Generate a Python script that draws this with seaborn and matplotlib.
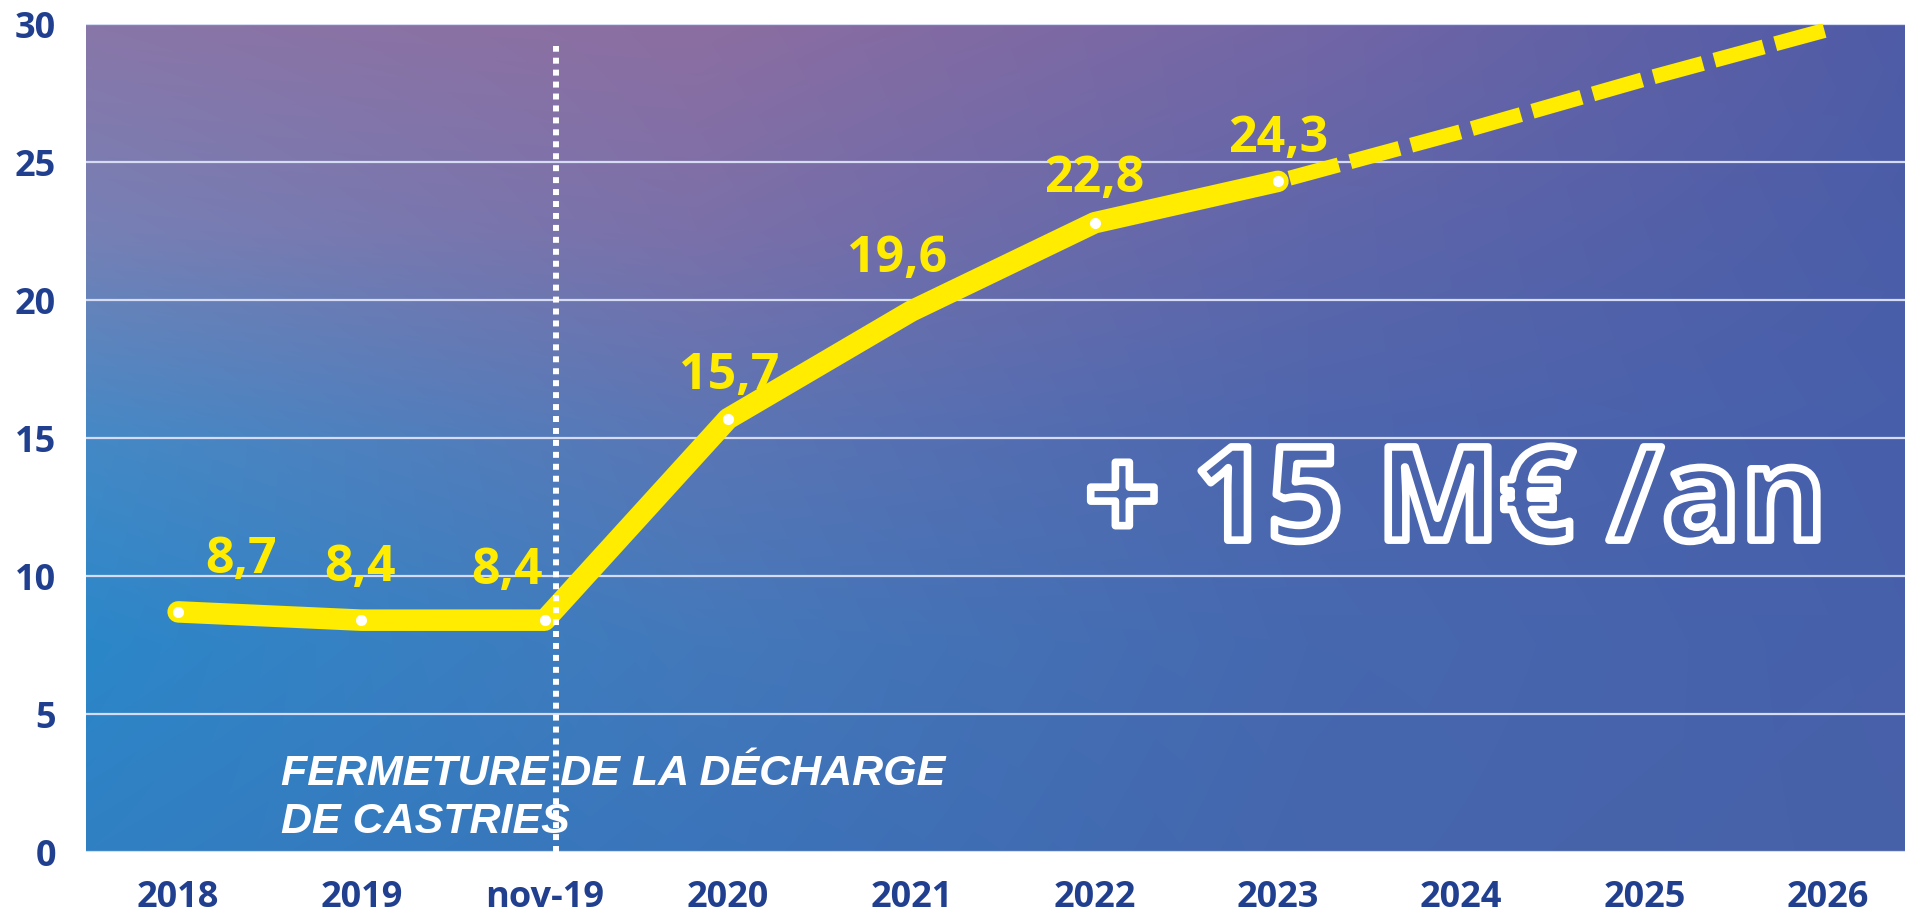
import numpy as np
import matplotlib
matplotlib.use('Agg')
import matplotlib.pyplot as plt
import matplotlib.patheffects as pe
from matplotlib.colors import to_rgb
import seaborn as sns

# Data (M€)
categories = ['2018', '2019', 'nov-19', '2020', '2021', '2022', '2023', '2024', '2025', '2026']
actual_categories = ['2018', '2019', 'nov-19', '2020', '2021', '2022', '2023']
actual_values = [8.7, 8.4, 8.4, 15.7, 19.6, 22.8, 24.3]
trend_categories = ['2023', '2024', '2025', '2026']
trend_values = [24.3, 26.1, 28.0, 29.8]
y_ticks = [0, 5, 10, 15, 20, 25, 30]
closure_label = 'FERMETURE DE LA DÉCHARGE\nDE CASTRIES'
gain_label = '+ 15 M€ /an'

# label offsets (points) relative to each point
label_offsets = [(45, 42), (-1, 42), (-27, 40), (1, 35), (-10, 42), (0, 36), (0, 35)]

YELLOW = '#ffec00'
NAVY = '#213f8f'

sns.set_style('white')
plt.rcParams['font.family'] = ['Open Sans', 'DejaVu Sans']

pos = {c: i for i, c in enumerate(categories)}
x_actual = [pos[c] for c in actual_categories]
x_trend = [pos[c] for c in trend_categories]

fig = plt.figure(figsize=(19.05, 9.13), dpi=100)
ax = fig.add_axes([0.0454, 0.0668, 0.9622, 0.9069])

# gradient background, rows from top to bottom
grad_rows = [
    ['#8976a8', '#8c6ea1', '#7366a6', '#4e5ba6'],
    ['#7680b5', '#7b70a9', '#5f66aa', '#4a5da8'],
    ['#4489c6', '#5a76b5', '#4d66ae', '#475fab'],
    ['#2b87c9', '#4379bb', '#4668af', '#4760aa'],
    ['#3080c3', '#3b74ba', '#4566ad', '#4861a8'],
]
ctrl = np.array([[to_rgb(c) for c in row] for row in grad_rows])
ny, nx = 400, 600
ry = np.linspace(0, ctrl.shape[0] - 1, ny)[:, None]
rx = np.linspace(0, ctrl.shape[1] - 1, nx)[None, :]
i0 = np.clip(np.floor(ry).astype(int), 0, ctrl.shape[0] - 2)
j0 = np.clip(np.floor(rx).astype(int), 0, ctrl.shape[1] - 2)
fy = (ry - i0)[..., None]
fx = (rx - j0)[..., None]
img = ((ctrl[i0, j0] * (1 - fx) + ctrl[i0, j0 + 1] * fx) * (1 - fy)
       + (ctrl[i0 + 1, j0] * (1 - fx) + ctrl[i0 + 1, j0 + 1] * fx) * fy)
ax.imshow(img, extent=(0, 1, 0, 1), transform=ax.transAxes, aspect='auto',
          origin='upper', zorder=0, interpolation='bilinear')

# horizontal gridlines
for yv in y_ticks:
    ax.axhline(yv, color='#d4dbf3', lw=1.6, zorder=1)

# projected trend (dashed)
sns.lineplot(x=x_trend, y=trend_values, ax=ax, color=YELLOW, linewidth=10.8,
             linestyle=(3.4, (3.4, 0.8)), dash_capstyle='butt', zorder=3)

# actual values
sns.lineplot(x=x_actual, y=actual_values, ax=ax, color=YELLOW, linewidth=15.5,
             solid_capstyle='round', solid_joinstyle='round', zorder=4,
             marker='o', markersize=8, markerfacecolor='white',
             markeredgewidth=0, markevery=[0, 1, 2, 3, 5, 6])

for x, v, (dx, dy) in zip(x_actual, actual_values, label_offsets):
    ax.annotate(f'{v:.1f}'.replace('.', ','), (x, v), xytext=(dx, dy),
                textcoords='offset points', ha='center', va='center_baseline',
                fontsize=36, fontweight='bold', color=YELLOW, zorder=5)

# closure marker
closure_x = pos['nov-19'] + 0.06
ax.plot([closure_x, closure_x], [0, 29.2], color='white', lw=4.3,
        linestyle=(0, (1, 1)), dash_capstyle='butt', zorder=6)
ax.text(0.56, 0.69, closure_label, fontsize=31, fontweight='bold', style='italic',
        color='white', family=['Liberation Sans', 'DejaVu Sans'], ha='left',
        va='baseline', linespacing=1.25, zorder=5)

# outlined annotation
ax.text(6.97, 11.3, gain_label, fontsize=94, fontweight='bold', color='none',
        ha='center', va='baseline', zorder=5,
        path_effects=[pe.Stroke(linewidth=5.5, foreground='white')])

ax.set_xlim(-0.5, len(categories) - 0.5)
ax.set_ylim(0, 30)
ax.set_xticks(range(len(categories)))
ax.set_xticklabels(categories)
ax.set_yticks(y_ticks)
ax.tick_params(axis='both', length=0, labelsize=26, labelcolor=NAVY)
ax.tick_params(axis='x', pad=20)
ax.tick_params(axis='y', pad=22)
for lbl in ax.get_xticklabels() + ax.get_yticklabels():
    lbl.set_fontweight('bold')
ax.set_xlabel('')
ax.set_ylabel('')
ax.grid(False)
for s in ax.spines.values():
    s.set_visible(False)

fig.savefig('out.png', dpi=100, facecolor='white')
